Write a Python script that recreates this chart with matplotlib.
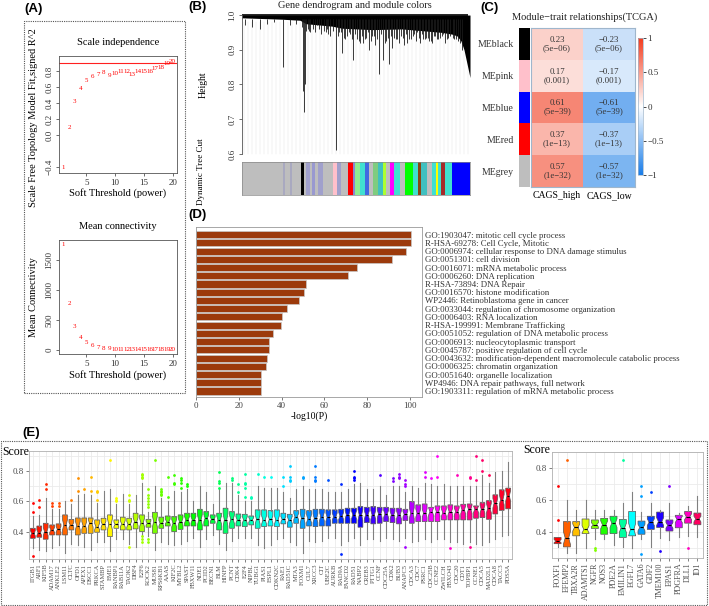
import matplotlib.pyplot as plt
import numpy as np
from matplotlib.colors import LinearSegmentedColormap, hsv_to_rgb
from matplotlib.patches import Rectangle

plt.rcParams['font.family'] = ['Liberation Serif', 'DejaVu Serif']
plt.rcParams['axes.linewidth'] = 0.6

# ---------------- (A) soft threshold
powers = [1, 2, 3, 4, 5, 6, 7, 8, 9, 10, 11, 12, 13, 14, 15, 16, 17, 18, 19, 20]
sft_r2 = [-0.40, 0.10, 0.425, 0.58, 0.68, 0.73, 0.76, 0.78, 0.75, 0.77,
          0.79, 0.80, 0.76, 0.79, 0.80, 0.80, 0.83, 0.85, 0.89, 0.92]
mean_k = [1750, 770, 390, 210, 120, 75, 48, 32, 22, 16,
          12, 9, 7, 6, 5, 4, 3, 3, 2, 2]

# ---------------- (B) dendrogram + module colours (leaf units 0..228)
band_pos = [0, 20, 40, 58, 64, 90, 100, 130, 160, 180, 200, 210, 215, 219, 222, 225, 228]
band_low = [0.992, 0.99, 0.988, 0.985, 0.975, 0.968, 0.962, 0.958, 0.96, 0.955,
            0.95, 0.945, 0.94, 0.925, 0.90, 0.86, 0.82]
drop_pos = [3, 10, 18, 25, 32, 41, 48, 54, 61, 62, 63, 66, 75, 85, 94, 100, 105,
            111, 115, 121, 130, 137, 141, 147, 155, 165, 175, 181, 190, 200,
            64, 68, 71, 79, 82, 88, 97, 103, 108, 118, 124, 127, 133, 144, 150,
            152, 159, 162, 169, 172, 178, 184, 187, 193, 196, 203, 206, 212, 216,
            60, 66.5, 73, 77, 84, 86, 91, 96, 99, 102, 107, 110, 113, 117, 120,
            123, 126, 129, 132, 135, 139, 143, 146, 149, 154, 157, 161, 164, 167,
            171, 174, 177, 180, 183, 186, 189, 192, 195, 198, 201, 205, 208, 211,
            214, 218, 220]
drop_h = [0.97, 0.965, 0.96, 0.975, 0.98, 0.85, 0.97, 0.975, 0.78, 0.72, 0.80,
          0.96, 0.97, 0.96, 0.61, 0.89, 0.94, 0.87, 0.93, 0.92, 0.94, 0.83, 0.87,
          0.86, 0.93, 0.92, 0.95, 0.93, 0.92, 0.94,
          0.955, 0.95, 0.96, 0.945, 0.955, 0.94, 0.95, 0.93, 0.945, 0.92, 0.935,
          0.90, 0.915, 0.925, 0.905, 0.935, 0.94, 0.915, 0.93, 0.945, 0.92,
          0.935, 0.925, 0.94, 0.93, 0.92, 0.935, 0.93, 0.925,
          0.965, 0.955, 0.95, 0.96, 0.95, 0.945, 0.955, 0.94, 0.95, 0.935,
          0.95, 0.93, 0.945, 0.925, 0.94, 0.93, 0.95, 0.925, 0.94, 0.93,
          0.945, 0.92, 0.935, 0.94, 0.93, 0.92, 0.935, 0.945, 0.93, 0.94,
          0.925, 0.935, 0.945, 0.93, 0.935, 0.925, 0.94, 0.93, 0.935, 0.945,
          0.93, 0.94, 0.935, 0.93, 0.92, 0.90]
module_cols = ['#BEBEBE', '#A9A9C0', '#BEBEBE', '#A9A9C0', '#BEBEBE', '#000000',
               '#BEBEBE', '#A0A0CC', '#BEBEBE', '#9999D0', '#BEBEBE', '#A0A0CC',
               '#BEBEBE', '#FFC0CB', '#A0A0CC', '#BEBEBE', '#FF0000', '#8A8AD0',
               '#90EE90', '#40E0D0', '#4169E1', '#BEBEBE', '#7FCC7F', '#40C0C0',
               '#ADFF2F', '#BEBEBE', '#FF00FF', '#40E0D0', '#BEBEBE', '#00FF00',
               '#40E0D0', '#8B4513', '#40C0C0', '#BEBEBE', '#40E0D0', '#FFFF00',
               '#40E0D0', '#A52A2A', '#40E0D0', '#0000FF']
module_widths = [41, 2, 5, 2, 9, 3, 2, 4, 2, 3, 3, 5, 10, 4, 4, 7, 5, 2,
                 5, 5, 4, 4, 5, 5, 3, 4, 4, 6, 5, 8, 5, 3, 6, 5, 4, 2,
                 3, 4, 7, 18]

# ---------------- (C) module-trait
modules = ['MEblack', 'MEpink', 'MEblue', 'MEred', 'MEgrey']
module_swatch = ['#000000', '#FFC0CB', '#0000FF', '#FF0000', '#BEBEBE']
traits = ['CAGS_high', 'CAGS_low']
cor_high = [0.23, 0.17, 0.61, 0.37, 0.57]
cor_low = [-0.23, -0.17, -0.61, -0.37, -0.57]
pvals = ['5e\u221206', '0.001', '5e\u221239', '1e\u221213', '1e\u221232']

# ---------------- (D) enrichment
terms = ['GO:1903047: mitotic cell cycle process',
         'R-HSA-69278: Cell Cycle, Mitotic',
         'GO:0006974: cellular response to DNA damage stimulus',
         'GO:0051301: cell division',
         'GO:0016071: mRNA metabolic process',
         'GO:0006260: DNA replication',
         'R-HSA-73894: DNA Repair',
         'GO:0016570: histone modification',
         'WP2446: Retinoblastoma gene in cancer',
         'GO:0033044: regulation of chromosome organization',
         'GO:0006403: RNA localization',
         'R-HSA-199991: Membrane Trafficking',
         'GO:0051052: regulation of DNA metabolic process',
         'GO:0006913: nucleocytoplasmic transport',
         'GO:0045787: positive regulation of cell cycle',
         'GO:0043632: modification-dependent macromolecule catabolic process',
         'GO:0006325: chromatin organization',
         'GO:0051640: organelle localization',
         'WP4946: DNA repair pathways, full network',
         'GO:1903311: regulation of mRNA metabolic process']
logp = [100.5, 100.5, 98.0, 91.5, 75.0, 71.0, 51.5, 50.5, 48.3, 42.6,
        40.3, 39.7, 35.8, 34.3, 34.2, 33.4, 32.9, 30.6, 30.5, 30.2]

# ---------------- (E) scores
genes_main = ['ITGB1', 'ARF1', 'KIF5B', 'ADAM17', 'ANKLE2', 'LSM11', 'CLTC', 'OFD1', 'APEX1', 'DSCC1',
              'PRKCA', 'STAMBP', 'EME1', 'RANBP1', 'RAB11A', 'TAOK2', 'DBF4', 'E2F6', 'ROCK2', 'MUS81',
              'RPS6KB1', 'AAAS', 'KIF2C', 'MYBL2', 'SPAST', 'FBXW11', 'NDE1', 'PCID2', 'BECN1', 'BLM',
              'HINFP', 'PCNT', 'CDK4', 'E2F4', 'NIPBL', 'TUBG1', 'PIAS1', 'ESPL1', 'CDKN2C', 'RAE1',
              'RAD51C', 'MTA3', 'FOXM1', 'CUL7', 'XRCC3', 'CIT', 'UBE2C', 'AURKB', 'RAD9A', 'FANCD2',
              'RAD51', 'NABP2', 'CREB3', 'PTTG1', 'CCNF', 'CDC25A', 'CDK2', 'BUB3', 'ANAPC5', 'CDCA3',
              'CDC7', 'PSRC1', 'CDC25B', 'CCNE2', 'ZWILCH', 'FBXO43', 'CDC20', 'CDT1', 'TOPBP1', 'CCNE1',
              'CDCA5', 'MAD2L1', 'CDCA8', 'TACC3', 'PDS5A']
med_main = [.389, .393, .400, .411, .415, .444, .444, .440, .440, .455,
            .433, .448, .448, .448, .451, .448, .466, .459, .455, .466,
            .455, .466, .455, .466, .477, .477, .477, .488, .481, .477,
            .477, .481, .477, .477, .477, .481, .477, .481, .477, .481,
            .477, .499, .488, .485, .488, .499, .495, .499, .503, .510,
            .510, .510, .510, .510, .516, .516, .510, .510, .514, .521,
            .521, .521, .532, .532, .525, .532, .532, .543, .547, .547,
            .547, .554, .587, .610, .635]
q1_main = [.356, .363, .350, .378, .378, .378, .411, .378, .389, .389,
           .396, .411, .367, .422, .411, .411, .418, .400, .429, .389,
           .422, .437, .400, .415, .437, .437, .411, .437, .455, .411,
           .389, .422, .437, .433, .444, .422, .433, .437, .433, .451,
           .429, .455, .422, .437, .433, .437, .437, .455, .455, .455,
           .455, .429, .459, .451, .455, .466, .459, .451, .473, .455,
           .466, .466, .466, .466, .477, .477, .477, .477, .477, .488,
           .492, .481, .516, .540, .550]
q3_main = [.422, .437, .455, .444, .451, .510, .480, .490, .490, .490,
           .477, .488, .510, .477, .495, .488, .521, .510, .481, .527,
           .495, .503, .499, .510, .521, .521, .547, .532, .510, .521,
           .554, .532, .516, .514, .503, .543, .543, .538, .543, .521,
           .514, .538, .547, .538, .547, .547, .543, .543, .547, .554,
           .554, .565, .560, .565, .560, .560, .554, .554, .547, .598,
           .576, .582, .560, .569, .569, .576, .569, .580, .582, .569,
           .591, .604, .642, .675, .686]
lo_main = [.29, .28, .27, .29, .31, .26, .32, .31, .30, .28,
           .33, .33, .27, .35, .35, .32, .30, .38, .37, .28,
           .33, .32, .31, .32, .34, .36, .30, .35, .38, .32,
           .28, .34, .36, .36, .36, .31, .29, .31, .35, .36,
           .33, .31, .26, .34, .33, .34, .36, .36, .31, .34,
           .36, .31, .35, .35, .34, .36, .35, .34, .36, .33,
           .34, .35, .33, .35, .35, .33, .33, .32, .33, .32,
           .31, .33, .35, .37, .38]
hi_main = [.50, .51, .62, .55, .55, .60, .58, .64, .65, .64,
           .59, .67, .68, .58, .65, .58, .64, .72, .53, .70,
           .62, .60, .67, .66, .68, .60, .70, .66, .58, .68,
           .72, .72, .64, .60, .60, .70, .69, .69, .69, .66,
           .62, .68, .70, .68, .68, .68, .66, .66, .66, .68,
           .71, .72, .68, .68, .70, .64, .70, .70, .66, .70,
           .69, .72, .71, .70, .71, .70, .70, .70, .70, .70,
           .77, .72, .79, .80, .86]
out_main = [[.59, .53, .24], [.61, .56], [.71, .68], [.59, .57], [.59, .57],
            [], [.61], [.75, .67], [.68], [.76, .67],
            [.67, .66, .61], [], [.87], [.62, .61, .60], [],
            [.64, .61, .60, .30], [], [.78, .77, .76, .75, .37, .35, .33],
            [.68, .64, .62, .60, .58, .56, .35, .33], [.87],
            [.68, .67, .66, .65, .64], [.76, .63], [.77, .72, .71], [.75, .74, .72, .69], [.71, .70],
            [], [], [], [], [.79, .73, .72, .69],
            [], [.75, .74], [.71, .66], [.78, .72, .71, .69, .63], [.63, .62],
            [.78], [.76], [.76], [], [.76, .70],
            [.83, .76, .74, .73], [], [.76, .75], [], [.83, .76, .74, .73],
            [], [.74], [], [.71, .25], [],
            [.80, .76, .75, .74], [], [], [], [.77],
            [], [.75, .73], [.78, .76, .75], [.74, .71, .70, .30], [],
            [], [.79, .76], [.75], [.90, .76], [],
            [.29], [.77], [], [.76, .75, .30], [.90, .74],
            [.87, .80], [.77], [], [], []]

genes_side = ['FOXF1', 'EFEMP2', 'TBXA2R', 'ADAMTS1', 'NGFR', 'NOS3', 'PDE2A', 'EMILIN1',
              'EGFL7', 'GATA6', 'GDF2', 'TMEM100', 'EPAS1', 'PDGFRA', 'DLL1', 'ID1']
med_side = [.345, .365, .430, .418, .447, .447, .457, .428, .418, .430, .463, .467, .443, .480, .497, .483]
q1_side = [.329, .309, .378, .392, .424, .388, .392, .368, .378, .388, .418, .430, .408, .428, .457, .447]
q3_side = [.368, .467, .467, .483, .477, .487, .500, .480, .530, .470, .500, .526, .477, .506, .530, .520]
lo_side = [.310, .274, .270, .300, .360, .360, .320, .310, .305, .360, .310, .365, .353, .368, .378, .372]
hi_side = [.370, .600, .536, .600, .540, .540, .540, .580, .648, .526, .580, .536, .585, .520, .565, .625]
out_side = [[.688, .477], [.85], [], [], [.30, .29], [], [], [.85],
            [], [.688, .625, .266], [.648], [.284], [.688], [], [.305], []]

W, H = 709, 606
fig = plt.figure(figsize=(W / 100, H / 100), dpi=100)


def box(x0, y0, x1, y1):
    return fig.add_axes([x0 / W, 1 - y1 / H, (x1 - x0) / W, (y1 - y0) / H])


def r_style(ax):
    ax.tick_params(labelsize=6.5, length=2.5, width=0.5, pad=1.5, colors='#333333')
    for s in ax.spines.values():
        s.set_color('#555555')
    for t in ax.get_yticklabels():
        t.set_rotation(90)
        t.set_va('center')


def panel_label(x, y, s):
    fig.text(x / W, 1 - y / H, s, fontsize=9.5, fontweight='bold',
             family=['Liberation Sans', 'DejaVu Sans'], va='center', ha='left')


# dotted frames
for (x0, y0, x1, y1) in [(24, 21, 185, 393), (1, 441, 707, 605)]:
    fig.add_artist(Rectangle((x0 / W, 1 - y1 / H), (x1 - x0) / W, (y1 - y0) / H,
                             transform=fig.transFigure, fill=False, ls=(0, (1, 1)),
                             lw=0.8, ec='#555555'))

# ---- A top
ax = box(59, 56, 177, 173)
ax.axhline(0.9, color='#ff2020', lw=0.8)
for p, v in zip(powers, sft_r2):
    ax.text(p, v, str(p), color='red', fontsize=5.0, ha='center', va='center')
ax.set_xlim(0.24, 20.76)
ax.set_ylim(-0.475, 0.99)
ax.set_xticks([5, 10, 15, 20])
ax.set_yticks([-0.4, 0.0, 0.2, 0.4, 0.6, 0.8])
ax.set_title('Scale independence', fontsize=7.5, pad=8)
ax.set_xlabel('Soft Threshold (power)', fontsize=7.5, labelpad=1)
ax.set_ylabel('Scale Free Topology Model Fit,signed R^2', fontsize=7.5)
ax.yaxis.set_label_coords(-21 / 118, 0.47)
r_style(ax)

# ---- A bottom
ax = box(59, 240, 177, 354)
for p, v in zip(powers, mean_k):
    ax.text(p, v, str(p), color='red', fontsize=5.0, ha='center', va='center')
ax.set_xlim(0.24, 20.76)
ax.set_ylim(-67, 1833)
ax.set_xticks([5, 10, 15, 20])
ax.set_yticks([0, 500, 1000, 1500])
ax.set_title('Mean connectivity', fontsize=7.5, pad=8)
ax.set_xlabel('Soft Threshold (power)', fontsize=7.5, labelpad=2)
ax.set_ylabel('Mean Connectivity', fontsize=7.5)
ax.yaxis.set_label_coords(-21 / 118, 0.5)
r_style(ax)
panel_label(24, 9, '(A)')

# ---- B dendrogram
ax = box(242, 14, 470, 155)
ax.set_xlim(0, 228)
ax.set_ylim(0.597, 1.003)
for x in np.arange(2, 228, 4):
    ax.plot([x, x], [0.6, 0.98], color='#e6e6e6', lw=0.35, zorder=0)
ax.fill_between(band_pos, band_low, 1.0, color='black', lw=0)
ax.vlines(drop_pos, drop_h, 0.99, color='#1a1a1a', lw=0.6)
ax.hlines(1.0, 0, 226, color='black', lw=1.2)
for k in ['top', 'right', 'bottom']:
    ax.spines[k].set_visible(False)
ax.spines['left'].set_bounds(0.6, 1.0)
ax.set_xticks([])
ax.set_yticks([0.6, 0.7, 0.8, 0.9, 1.0])
r_style(ax)
ax.set_ylabel('Height', fontsize=7)
ax.yaxis.set_label_coords(-34 / 228, 0.5)
fig.text(355 / W, 1 - 6 / H, 'Gene dendrogram and module colors', fontsize=7.5,
         ha='center', va='center', color='#222222')

ax = box(242, 162, 470, 195)
lefts = np.concatenate([[0], np.cumsum(module_widths)[:-1]])
ax.barh(0.5, module_widths, left=lefts, height=1, color=module_cols, lw=0)
ax.set_xlim(0, 228)
ax.set_ylim(0, 1)
ax.set_xticks([])
ax.set_yticks([])
for s in ax.spines.values():
    s.set_color('#888888')
    s.set_linewidth(0.5)
ax.set_ylabel('Dynamic Tree Cut', fontsize=6.5)
ax.yaxis.set_label_coords(-37 / 228, 0.7)
panel_label(188, 7, '(B)')

# ---- C heatmap
cmap = LinearSegmentedColormap.from_list('bwr_c', ['#1A7DE8', '#FFFFFF', '#F23C1E'])
mat = np.column_stack([cor_high, cor_low])
ax = box(531, 28, 635, 187)
im = ax.imshow(mat, cmap=cmap, vmin=-1, vmax=1, aspect='auto')
for i in range(len(modules)):
    for j, vals in enumerate([cor_high, cor_low]):
        ax.text(j, i, '%s\n(%s)' % (('%.2f' % vals[i]).replace('-', '\u2212'), pvals[i]),
                ha='center', va='center', fontsize=6.3, color='#333333', linespacing=1.05)
ax.set_xticks(range(2))
ax.set_xticklabels(traits, fontsize=7)
ax.set_yticks([])
ax.tick_params(length=0, pad=3)
for s in ax.spines.values():
    s.set_color('#9fb6cc')
    s.set_linewidth(0.8)

ax = box(519, 28, 530, 187)
ax.imshow(np.arange(len(modules)).reshape(-1, 1),
          cmap=LinearSegmentedColormap.from_list('sw', module_swatch, N=len(modules)),
          aspect='auto')
ax.set_xticks([])
ax.set_yticks(range(len(modules)))
ax.set_yticklabels(modules, fontsize=7, color='#333333')
ax.tick_params(length=0, pad=4)
for s in ax.spines.values():
    s.set_visible(False)

cax = box(638, 38, 643, 175)
cb = fig.colorbar(im, cax=cax, ticks=[-1, -0.5, 0, 0.5, 1])
cb.ax.set_yticklabels(['\u22121', '\u22120.5', '0', '0.5', '1'], fontsize=6.5, color='#333333')
cb.ax.tick_params(length=2, width=0.5, pad=1)
cb.outline.set_edgecolor('#9fb6cc')
cb.outline.set_linewidth(0.5)
fig.text(585 / W, 1 - 17 / H, 'Module\u2212trait relationships(TCGA)', fontsize=7.5,
         ha='center', va='center', color='#222222')
panel_label(480, 8, '(C)')

# ---- D bars
ax = box(196, 227, 422, 397)
ypos = np.arange(len(terms))
ax.barh(ypos, logp, height=0.86, color='#9C3A0C', edgecolor='#c8c8c8', lw=0.5)
ax.set_ylim(len(terms) - 0.27, -0.93)
ax.set_xlim(0, 105.6)
ax.set_xticks([0, 20, 40, 60, 80, 100])
ax.yaxis.tick_right()
ax.set_yticks(ypos)
ax.set_yticklabels(terms, fontsize=6.3, color='#333333')
ax.tick_params(axis='y', length=0, pad=2)
ax.tick_params(axis='x', labelsize=6.5, length=2, width=0.5, pad=1.5, colors='#444444')
ax.set_xlabel('-log10(P)', fontsize=7, labelpad=1)
for s in ax.spines.values():
    s.set_color('#999999')
panel_label(188, 215, '(D)')


# ---- E boxplots
def score_panel(ax, genes, med, q1, q3, lo, hi, outl, ylim, label_size):
    n = len(genes)
    hues = np.arange(n) / n
    cols = hsv_to_rgb(np.column_stack([hues, np.ones(n), np.ones(n)]))
    stats = []
    for i in range(n):
        iqr = q3[i] - q1[i]
        stats.append(dict(med=med[i], q1=q1[i], q3=q3[i], whislo=lo[i], whishi=hi[i],
                          fliers=outl[i], cilo=med[i] - 0.25 * iqr, cihi=med[i] + 0.25 * iqr))
    bp = ax.bxp(stats, positions=np.arange(1, n + 1), widths=0.75, shownotches=True,
                patch_artist=True, showcaps=False,
                boxprops=dict(edgecolor='#555555', linewidth=0.5),
                medianprops=dict(color='black', linewidth=0.8),
                whiskerprops=dict(color='#808080', linewidth=0.8),
                flierprops=dict(marker='o', markersize=2.0, markeredgewidth=0))
    for i in range(n):
        bp['boxes'][i].set_facecolor(cols[i])
        bp['fliers'][i].set_markerfacecolor(cols[i])
    ax.set_xlim(0.4, n + 0.6)
    ax.set_ylim(*ylim)
    ax.set_xticks(np.arange(1, n + 1))
    ax.set_xticklabels(genes, rotation=90, color='#4d4d4d')
    ax.set_yticks([0.4, 0.6, 0.8])
    ax.set_yticks([0.3, 0.5, 0.7, 0.9], minor=True)
    ax.tick_params(axis='y', which='minor', length=0)
    ax.tick_params(labelsize=6.5, length=2, width=0.5, pad=1.5, colors='#4d4d4d')
    ax.tick_params(axis='x', labelsize=label_size)
    ax.grid(True, which='both', color='#ebebeb', lw=0.6)
    ax.set_axisbelow(True)
    for s in ax.spines.values():
        s.set_color('#b0b0b0')


ax = box(29, 451, 512, 559)
score_panel(ax, genes_main, med_main, q1_main, q3_main, lo_main, hi_main, out_main,
            (0.22, 0.93), 4.6)
fig.text(2 / W, 1 - 452 / H, 'Score', fontsize=8.5, va='center', ha='left')

ax = box(552, 452, 703, 558)
score_panel(ax, genes_side, med_side, q1_side, q3_side, lo_side, hi_side, out_side,
            (0.24, 0.87), 5.8)
fig.text(523 / W, 1 - 450 / H, 'Score', fontsize=8.5, va='center', ha='left')
panel_label(22, 433, '(E)')

fig.savefig('out.png', dpi=100)
